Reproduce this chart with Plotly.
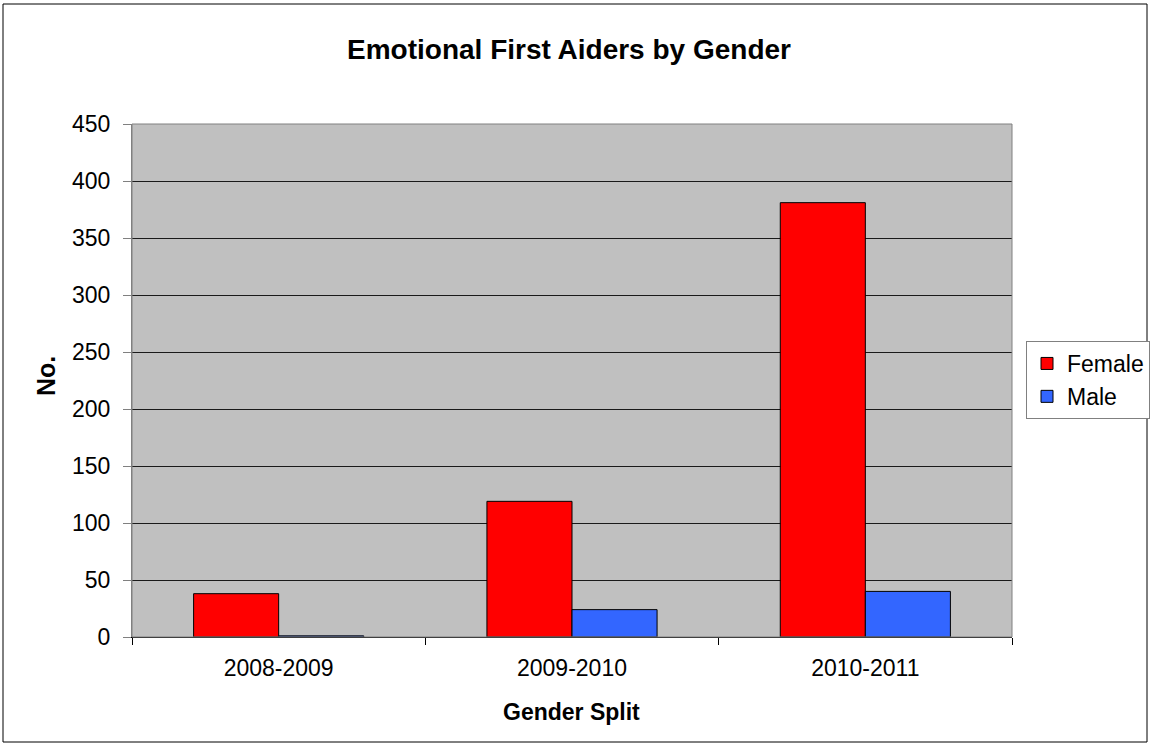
import plotly.graph_objects as go

categories = ["2008-2009", "2009-2010", "2010-2011"]
female = [38, 119, 381]
male = [1, 24, 40]
y_ticks = [0, 50, 100, 150, 200, 250, 300, 350, 400, 450]

W, H = 1150, 747
L, R, T, B = 132, 1012, 124, 637

def px_x(p):
    return (p - L) / (R - L)

def px_y(p):
    return (B - p) / (B - T)

fig = go.Figure()
fig.add_trace(go.Bar(name="Female", x=categories, y=female,
                     marker=dict(color="#FF0000", line=dict(color="#000000", width=1))))
fig.add_trace(go.Bar(name="Male", x=categories, y=male,
                     marker=dict(color="#3366FF", line=dict(color="#000000", width=1))))

font = "Liberation Sans, Arial, sans-serif"
fig.update_layout(
    width=W, height=H,
    margin=dict(l=L, r=W - R, t=T, b=H - B, autoexpand=False),
    paper_bgcolor="white", plot_bgcolor="#C0C0C0",
    barmode="group", bargap=0.42, bargroupgap=0,
    font=dict(family=font, size=23, color="black"),
    title=dict(text="<b>Emotional First Aiders by Gender</b>", x=px_x(569), xref="paper",
               xanchor="center", y=1 - 49 / H, yanchor="middle", yref="container",
               font=dict(family=font, size=28, color="black")),
    legend=dict(x=px_x(1026), xanchor="left", y=px_y(380), yanchor="middle",
                bordercolor="#808080", borderwidth=1, bgcolor="white",
                font=dict(family=font, size=23), itemwidth=30),
    showlegend=True,
)
fig.update_xaxes(showgrid=False, showline=True, linecolor="#000000", linewidth=1,
                 ticks="outside", tickson="boundaries", ticklen=7, tickcolor="#000000",
                 tickfont=dict(size=23), ticklabelstandoff=10)
fig.update_yaxes(range=[0, 450], tickvals=y_ticks, showgrid=True, gridcolor="#1a1a1a",
                 gridwidth=1, showline=True, linecolor="#808080", linewidth=1,
                 ticks="outside", ticklen=8, tickcolor="#808080", zeroline=False,
                 tickfont=dict(size=23), ticklabelstandoff=8)

fig.add_annotation(text="<b>No.</b>", x=px_x(46), y=px_y(376), xref="paper", yref="paper",
                   xanchor="center", yanchor="middle",
                   textangle=-90, showarrow=False, font=dict(family=font, size=25))
fig.add_annotation(text="<b>Gender Split</b>", x=px_x(571), y=px_y(712), xref="paper", yref="paper",
                   xanchor="center", yanchor="middle",
                   showarrow=False, font=dict(family=font, size=23))

# plot area border (top/right)
fig.add_shape(type="rect", xref="paper", yref="paper", x0=0, y0=0, x1=1, y1=1,
              line=dict(color="#808080", width=1), layer="above")
# chart outer border
fig.add_shape(type="rect", xref="paper", yref="paper",
              x0=px_x(3), y0=px_y(742), x1=px_x(1147), y1=px_y(4),
              line=dict(color="#000000", width=1))

fig.write_html("out.html", config={"displayModeBar": False},
               post_script="document.body.style.margin='0';")
